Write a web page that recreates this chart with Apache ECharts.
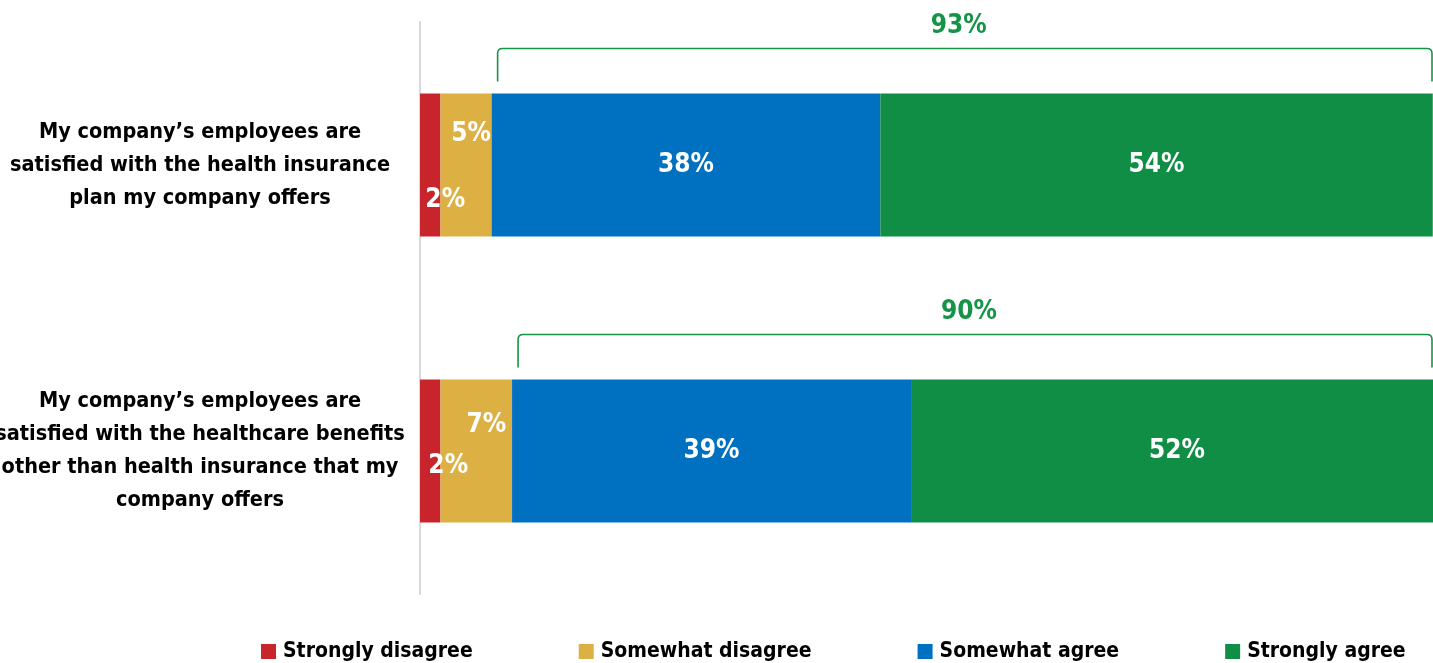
<!DOCTYPE html>
<html>
<head>
<meta charset="utf-8">
<script src="https://cdn.jsdelivr.net/npm/echarts@6/dist/echarts.min.js"></script>
<style>
  html, body { margin: 0; padding: 0; background: #ffffff; }
  #chart { width: 1433px; height: 663px; }
</style>
</head>
<body>
<div id="chart"></div>
<script>
// Survey statements (top to bottom)
const categories = [
  'My company\u2019s employees are\nsatisfied with the health insurance\nplan my company offers',
  'My company\u2019s employees are\nsatisfied with the healthcare benefits\nother than health insurance that my\ncompany offers'
];

// Share of respondents per answer, in percent
const stronglyDisagree = [2, 2];
const somewhatDisagree = [5, 7];
const somewhatAgree = [38, 39];
const stronglyAgree = [54, 52];

// Net agreement shown above each bar
const agreeTotals = [93, 90];

const seriesNames = ['Strongly disagree', 'Somewhat disagree', 'Somewhat agree', 'Strongly agree'];
const seriesColors = ['#C8242B', '#DCB042', '#0070C0', '#118E46'];

const FONT = '"DejaVu Sans Condensed", "Liberation Sans Narrow", sans-serif';

// Label nudges for the narrow disagree segments (pixels, per bar)
const smallLabelOffsets = {
  'Strongly disagree': [[15, 35], [18, 15]],
  'Somewhat disagree': [[5, -31], [10, -26]]
};

function buildData(name, values) {
  return values.map((v, i) => {
    const item = { value: v };
    if (smallLabelOffsets[name]) {
      item.label = { offset: smallLabelOffsets[name][i] };
    }
    return item;
  });
}

const valueSets = [stronglyDisagree, somewhatDisagree, somewhatAgree, stronglyAgree];

const barSeries = seriesNames.map((name, k) => ({
  name: name,
  type: 'bar',
  stack: 'total',
  barWidth: '50%',
  itemStyle: { color: seriesColors[k] },
  label: {
    show: true,
    position: 'inside',
    formatter: '{c}%',
    color: '#ffffff',
    fontFamily: FONT,
    fontWeight: 'bold',
    fontSize: 26
  },
  emphasis: { disabled: true },
  data: buildData(name, valueSets[k])
}));

// Bracket spanning the agree segments, with the net-agree figure above it
const bracketData = categories.map((c, i) => [
  stronglyDisagree[i] + somewhatDisagree[i],
  i,
  100,
  agreeTotals[i]
]);

const bracketSeries = {
  type: 'custom',
  name: 'bracket',
  silent: true,
  encode: { x: [0, 2], y: 1 },
  data: bracketData,
  renderItem: function (params, api) {
    const start = api.coord([api.value(0), api.value(1)]);
    const end = api.coord([api.value(2), api.value(1)]);
    const band = api.size([0, 1])[1];
    const barTop = start[1] - band * 0.25;
    const yH = barTop - 45;
    const yT = barTop - 12;
    const x0 = start[0] + 6;
    const x1 = end[0] - 11;
    const r = 5;
    const path = 'M' + x0 + ' ' + yT +
      ' L' + x0 + ' ' + (yH + r) +
      ' Q' + x0 + ' ' + yH + ' ' + (x0 + r) + ' ' + yH +
      ' L' + (x1 - r) + ' ' + yH +
      ' Q' + x1 + ' ' + yH + ' ' + x1 + ' ' + (yH + r) +
      ' L' + x1 + ' ' + yT;
    return {
      type: 'group',
      children: [
        {
          type: 'path',
          shape: { pathData: path },
          style: { fill: null, stroke: '#149447', lineWidth: 1.6 }
        },
        {
          type: 'text',
          style: {
            x: (x0 + x1) / 2 - 6,
            y: yH - 22,
            text: api.value(3) + '%',
            fill: '#149447',
            font: 'bold 26px ' + FONT,
            align: 'center',
            verticalAlign: 'middle'
          }
        }
      ]
    };
  }
};

const chart = echarts.init(document.getElementById('chart'), null, { renderer: 'canvas' });

chart.setOption({
  animation: false,
  backgroundColor: '#ffffff',
  grid: {
    left: 420, top: 22, width: 1023, height: 572,
    containLabel: false,
    outerBoundsMode: 'none'
  },
  legend: {
    data: seriesNames,
    left: 256,
    top: 636,
    width: 1400,
    itemWidth: 15,
    itemHeight: 15,
    itemGap: 106,
    icon: 'rect',
    selectedMode: false,
    textStyle: { fontFamily: FONT, fontWeight: 'bold', fontSize: 21, color: '#000000', padding: [0, 0, 0, 2] }
  },
  xAxis: {
    type: 'value',
    min: 0,
    max: 100,
    show: false,
    splitLine: { show: false }
  },
  yAxis: {
    type: 'category',
    inverse: true,
    data: categories,
    axisLine: { show: true, lineStyle: { color: '#d9d9d9', width: 2 } },
    axisTick: { show: false },
    axisLabel: {
      align: 'center',
      margin: 220,
      color: '#000000',
      fontFamily: FONT,
      fontWeight: 'bold',
      fontSize: 21.5,
      lineHeight: 33
    }
  },
  series: barSeries.concat([bracketSeries])
});
</script>
</body>
</html>
